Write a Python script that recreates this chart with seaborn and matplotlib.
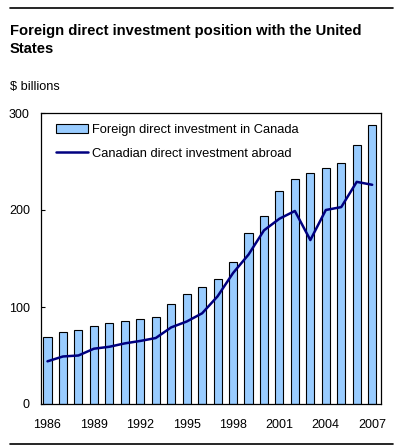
import matplotlib
matplotlib.use("Agg")
import matplotlib.pyplot as plt
import seaborn as sns
import pandas as pd
from matplotlib.patches import Patch
from matplotlib.lines import Line2D

years = [str(y) for y in range(1986, 2008)]
fdi_in_canada = [69, 74, 76, 80, 84, 86, 88, 90, 103, 113, 121, 129,
                 146, 176, 194, 220, 232, 238, 243, 248, 267, 288]
cdi_abroad = [44, 49, 50, 57, 59, 62.5, 65, 68, 79, 85, 93.5, 111,
              135, 154, 179, 191, 199, 169, 200, 203, 229, 226]
tick_years = ["1986", "1989", "1992", "1995", "1998", "2001", "2004", "2007"]
y_ticks = [0, 100, 200, 300]

bar_label = "Foreign direct investment in Canada"
line_label = "Canadian direct investment abroad"
title = "Foreign direct investment position with the United\nStates"
unit = "$ billions"

df = pd.DataFrame({"year": years, "fdi": fdi_in_canada, "cdi": cdi_abroad})

sns.set_style("white")
plt.rcParams["font.family"] = ["Liberation Sans", "DejaVu Sans"]
plt.rcParams["text.color"] = "black"
plt.rcParams["xtick.color"] = "black"
plt.rcParams["ytick.color"] = "black"
plt.rcParams["axes.labelcolor"] = "black"

W, H = 399, 447
fig = plt.figure(figsize=(W / 100, H / 100), dpi=100)
ax = fig.add_axes([41 / W, 1 - 404 / H, (381 - 41) / W, (404 - 113) / H])

bar_color = "#99ccff"
line_color = "#000080"

sns.barplot(data=df, x="year", y="fdi", order=years, color=bar_color,
            saturation=1, width=0.52, edgecolor="black", linewidth=0.8, ax=ax)
sns.lineplot(data=df, x="year", y="cdi", color=line_color, linewidth=1.8,
             ax=ax, sort=False)

ax.set_xlim(-0.42, 21.57)
ax.set_ylim(0, 300)
ax.set_yticks(y_ticks)
ax.set_yticklabels([str(v) for v in y_ticks])
ax.set_xticks([years.index(t) for t in tick_years])
ax.set_xticklabels(tick_years)
ax.set_xlabel("")
ax.set_ylabel("")
ax.tick_params(axis="y", direction="in", length=3, width=0.8, pad=8,
               labelsize=9, left=True, colors="black")
ax.tick_params(axis="x", length=0, pad=11, labelsize=9, colors="black")
for s in ax.spines.values():
    s.set_visible(True)
    s.set_color("black")
    s.set_linewidth(0.9)

handles = [Patch(facecolor=bar_color, edgecolor="black", linewidth=0.8),
           Line2D([0], [0], color=line_color, linewidth=1.8)]
fig.legend(handles, [bar_label, line_label], loc="upper left",
           bbox_to_anchor=(56 / W, 1 - 124 / H), bbox_transform=fig.transFigure,
           frameon=False, fontsize=9.3, handlelength=2.5, handleheight=0.7,
           handletextpad=0.3, labelspacing=0.92, borderpad=0, borderaxespad=0,
           labelcolor="black")

fig.text(10 / W, 1 - 40 / H, title, fontsize=10.6, fontweight="bold",
         va="center", ha="left", linespacing=1.35, color="black")
fig.text(10 / W, 1 - 87 / H, unit, fontsize=9.2, va="center", ha="left",
         color="black")

fig.add_artist(Line2D([10 / W, 393 / W], [1 - 7.5 / H, 1 - 7.5 / H],
                      color="black", linewidth=1.2, transform=fig.transFigure))
fig.add_artist(Line2D([10 / W, 393 / W], [1 - 444 / H, 1 - 444 / H],
                      color="black", linewidth=1.2, transform=fig.transFigure))

fig.savefig("out.png", dpi=100)
